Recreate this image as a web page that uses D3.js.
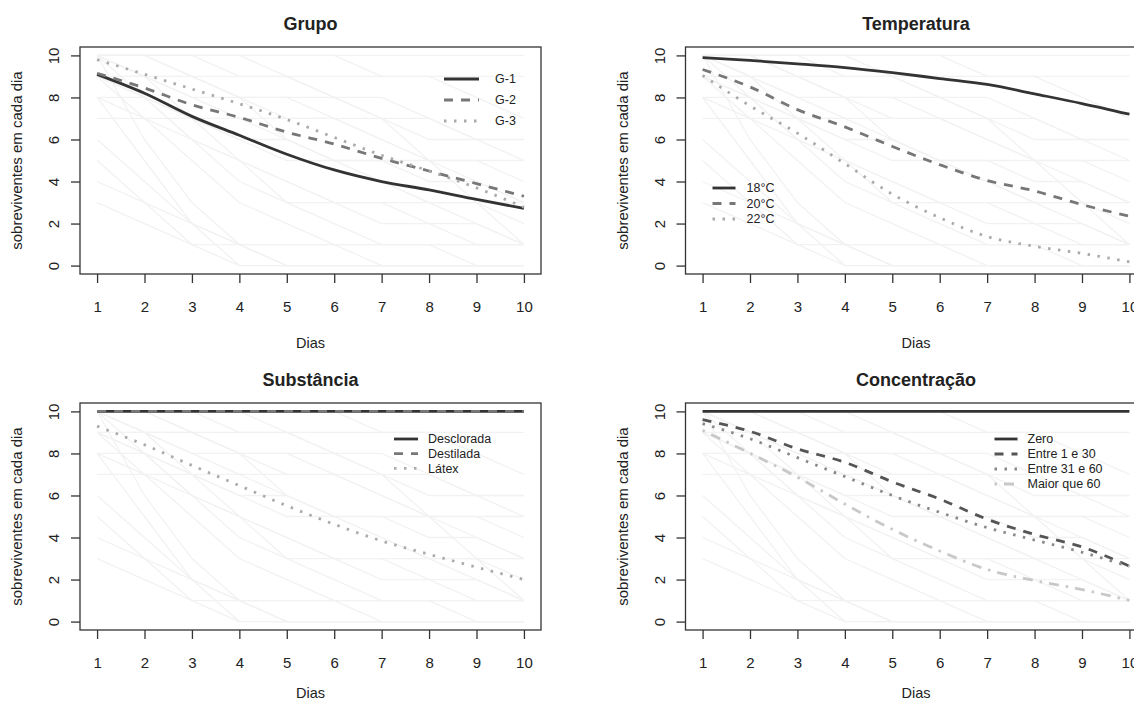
<!DOCTYPE html>
<html>
<head>
<meta charset="utf-8">
<script src="https://cdn.jsdelivr.net/npm/d3@7"></script>
<style>
  body { margin: 0; background: #fff; }
  text { font-family: "Liberation Sans", Arial, sans-serif; fill: #222; }
</style>
</head>
<body>
<script>
// days and y ticks
const days = [1, 2, 3, 4, 5, 6, 7, 8, 9, 10];
const yTicks = [0, 2, 4, 6, 8, 10];

// panel titles
const titles = ["Grupo", "Temperatura", "Substância", "Concentração"];

// Grupo
const grupoLabels = ["G-1", "G-2", "G-3"];
const grupo1 = [9.1, 8.2, 7.1, 6.2, 5.3, 4.55, 4.0, 3.6, 3.15, 2.72];
const grupo2 = [9.15, 8.45, 7.65, 7.05, 6.35, 5.78, 5.1, 4.5, 3.9, 3.3];
const grupo3 = [9.8, 9.1, 8.4, 7.7, 6.95, 6.1, 5.25, 4.5, 3.7, 2.78];

// Temperatura
const tempLabels = ["18°C", "20°C", "22°C"];
const temp18 = [9.89, 9.76, 9.6, 9.42, 9.18, 8.9, 8.62, 8.17, 7.71, 7.2];
const temp20 = [9.33, 8.5, 7.42, 6.6, 5.67, 4.8, 4.05, 3.55, 2.9, 2.35];
const temp22 = [9.05, 7.6, 6.3, 4.85, 3.4, 2.28, 1.38, 0.92, 0.58, 0.18];

// Substância
const subLabels = ["Desclorada", "Destilada", "Látex"];
const subDesclorada = [10, 10, 10, 10, 10, 10, 10, 10, 10, 10];
const subDestilada = [10, 10, 10, 10, 10, 10, 10, 10, 10, 10];
const subLatex = [9.3, 8.41, 7.43, 6.47, 5.51, 4.63, 3.84, 3.2, 2.59, 2.0];

// Concentração
const concLabels = ["Zero", "Entre 1 e 30", "Entre 31 e 60", "Maior que 60"];
const concZero = [10, 10, 10, 10, 10, 10, 10, 10, 10, 10];
const conc1a30 = [9.61, 9.05, 8.22, 7.58, 6.65, 5.83, 4.87, 4.15, 3.55, 2.64];
const conc31a60 = [9.42, 8.7, 7.8, 6.9, 6.0, 5.2, 4.47, 3.88, 3.3, 2.62];
const concMaior60 = [9.1, 8.01, 6.87, 5.59, 4.39, 3.36, 2.48, 1.95, 1.52, 1.01];

// individual replicates drawn faintly behind each panel
const replicas = [
  [10, 10, 10, 10, 10, 10, 10, 10, 10, 10],
  [10, 10, 10, 10, 10, 10, 9, 9, 8, 7],
  [10, 10, 9, 9, 9, 8, 8, 7, 6, 6],
  [10, 10, 10, 9, 9, 9, 9, 9, 9, 9],
  [9, 9, 8, 8, 7, 7, 6, 5, 5, 4],
  [9, 8, 7, 6, 6, 5, 5, 4, 4, 3],
  [10, 9, 8, 7, 6, 5, 4, 3, 3, 2],
  [9, 8, 7, 5, 4, 3, 3, 2, 2, 1],
  [8, 7, 6, 5, 4, 3, 2, 2, 1, 1],
  [10, 8, 6, 4, 3, 2, 1, 1, 0, 0],
  [9, 7, 5, 3, 2, 1, 0, 0, 0, 0],
  [10, 6, 3, 1, 0, 0, 0, 0, 0, 0],
  [8, 5, 2, 0, 0, 0, 0, 0, 0, 0],
  [10, 10, 9, 8, 6, 5, 4, 3, 2, 1],
  [10, 9, 9, 8, 8, 7, 6, 5, 4, 3],
  [7, 7, 7, 7, 7, 7, 7, 6, 6, 5],
  [6, 4, 2, 1, 1, 1, 1, 1, 1, 1],
  [5, 3, 1, 0, 0, 0, 0, 0, 0, 0],
  [4, 3, 2, 1, 0, 0, 0, 0, 0, 0],
  [3, 2, 1, 1, 1, 1, 1, 1, 1, 1],
  [10, 10, 10, 10, 9, 8, 7, 5, 3, 1],
  [9, 9, 9, 8, 8, 8, 7, 7, 6, 6],
  [10, 9, 7, 6, 5, 5, 5, 5, 5, 5],
  [8, 8, 6, 5, 3, 3, 3, 3, 3, 3]
];

const dashes = { solid: null, dashed: "9,8", dotted: "2.5,7.5", dotdash: "2.5,7,10,7" };

const panels = [
  { title: titles[0], col: 0, row: 0, series: [
      { name: grupoLabels[0], values: grupo1, color: "#333", lty: "solid" },
      { name: grupoLabels[1], values: grupo2, color: "#777", lty: "dashed" },
      { name: grupoLabels[2], values: grupo3, color: "#aaa", lty: "dotted" }],
    legend: { x1: 364, x2: 399, tx: 415, y0: 32, dy: 21 } },
  { title: titles[1], col: 1, row: 0, series: [
      { name: tempLabels[0], values: temp18, color: "#333", lty: "solid" },
      { name: tempLabels[1], values: temp20, color: "#777", lty: "dashed" },
      { name: tempLabels[2], values: temp22, color: "#aaa", lty: "dotted" }],
    legend: { x1: 27, x2: 50, tx: 61, y0: 141, dy: 15.5 } },
  { title: titles[2], col: 0, row: 1, series: [
      { name: subLabels[0], values: subDesclorada, color: "#333", lty: "solid" },
      { name: subLabels[1], values: subDestilada, color: "#777", lty: "dashed" },
      { name: subLabels[2], values: subLatex, color: "#aaa", lty: "dotted" }],
    legend: { x1: 314, x2: 338, tx: 348, y0: 36, dy: 14.7 } },
  { title: titles[3], col: 1, row: 1, series: [
      { name: concLabels[0], values: concZero, color: "#333", lty: "solid" },
      { name: concLabels[1], values: conc1a30, color: "#555", lty: "dashed" },
      { name: concLabels[2], values: conc31a60, color: "#888", lty: "dotted" },
      { name: concLabels[3], values: concMaior60, color: "#c8c8c8", lty: "dotdash" }],
    legend: { x1: 309, x2: 332, tx: 342, y0: 36, dy: 15 } }
];

const svg = d3.select("body").append("svg")
  .attr("width", 1134)
  .attr("height", 704);

const boxW = 461, boxH = 227;

panels.forEach(function(p) {
  let left = 80 + p.col * 605.5;
  let top = 47 + p.row * 356;
  let g = svg.append("g").attr("transform", "translate(" + left + "," + top + ")");

  let x = d3.scaleLinear().domain([0.64, 10.36]).range([0, boxW]);
  let y = d3.scaleLinear().domain([-0.4, 10.4]).range([boxH, 0]);

  let line = d3.line()
    .x((d, i) => x(days[i]))
    .y((d) => y(d));

  // faint replicates
  g.selectAll(".rep")
    .data(replicas)
    .enter()
    .append("path")
    .attr("d", line)
    .attr("fill", "none")
    .attr("stroke", "#f2f2f2")
    .attr("stroke-width", 1.3);

  // mean curves
  let smooth = d3.line()
    .x((d, i) => x(days[i]))
    .y((d) => y(d))
    .curve(d3.curveMonotoneX);

  p.series.forEach(function(s) {
    g.append("path")
      .datum(s.values)
      .attr("d", smooth)
      .attr("fill", "none")
      .attr("stroke", s.color)
      .attr("stroke-width", 2.8)
      .attr("stroke-dasharray", dashes[s.lty]);
  });

  // box
  g.append("rect")
    .attr("width", boxW)
    .attr("height", boxH)
    .attr("fill", "none")
    .attr("stroke", "#333")
    .attr("stroke-width", 1.3);

  // x axis
  let xAxis = d3.axisBottom(x).tickValues(days).tickSize(9).tickPadding(18).tickFormat(d3.format("d"));
  let gx = g.append("g").attr("transform", "translate(0," + boxH + ")").call(xAxis);
  gx.select(".domain").remove();
  gx.selectAll("line").attr("stroke", "#333").attr("stroke-width", 1.3);
  gx.selectAll("text").style("font-size", "15px").attr("fill", "#222");

  // y axis
  let yAxis = d3.axisLeft(y).tickValues(yTicks).tickSize(9).tickFormat(d3.format("d"));
  let gy = g.append("g").call(yAxis);
  gy.select(".domain").remove();
  gy.selectAll("line").attr("stroke", "#333").attr("stroke-width", 1.3);
  gy.selectAll("text")
    .attr("x", null).attr("dy", null)
    .attr("text-anchor", "middle")
    .attr("transform", "translate(-26,0) rotate(-90)")
    .attr("dy", "0.35em")
    .style("font-size", "15px")
    .attr("fill", "#222");

  // titles and labels
  g.append("text")
    .attr("x", boxW / 2)
    .attr("y", -17)
    .attr("text-anchor", "middle")
    .style("font-size", "18px")
    .style("font-weight", "bold")
    .text(p.title);

  g.append("text")
    .attr("x", boxW / 2)
    .attr("y", p.row == 0 ? 301 : 295)
    .attr("text-anchor", "middle")
    .style("font-size", "14.5px")
    .text("Dias");

  g.append("text")
    .attr("transform", "translate(-58," + (boxH / 2) + ")rotate(-90)")
    .attr("text-anchor", "middle")
    .style("font-size", "15px")
    .text("sobreviventes em cada dia");

  // legend
  let lg = p.legend;
  p.series.forEach(function(s, i) {
    let ly = lg.y0 + i * lg.dy;
    g.append("line")
      .attr("x1", lg.x1).attr("x2", lg.x2)
      .attr("y1", ly).attr("y2", ly)
      .attr("stroke", s.color)
      .attr("stroke-width", 2.8)
      .attr("stroke-dasharray", dashes[s.lty]);
    g.append("text")
      .attr("x", lg.tx)
      .attr("y", ly)
      .attr("dy", "0.35em")
      .style("font-size", "12.5px")
      .attr("fill", "#333")
      .text(s.name);
  });
});
</script>
</body>
</html>
